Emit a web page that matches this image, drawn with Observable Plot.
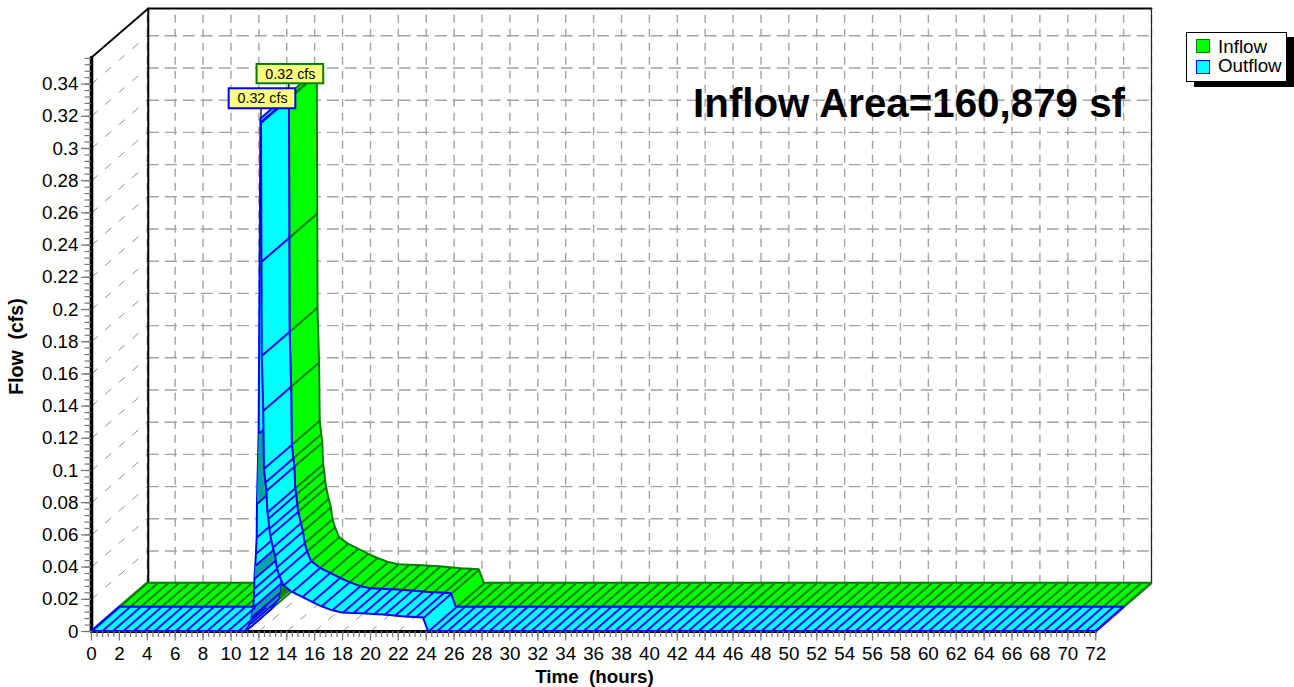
<!DOCTYPE html>
<html>
<head>
<meta charset="utf-8">
<script src="https://cdn.jsdelivr.net/npm/d3@7"></script>
<script src="https://cdn.jsdelivr.net/npm/@observablehq/plot@0.6"></script>
<style>
html,body{margin:0;padding:0;background:#fff;overflow:hidden;width:1294px;height:687px;font-family:"Liberation Sans",Arial,sans-serif}
#chart{position:absolute;left:0;top:0}
#title{position:absolute;left:510px;top:-21px;font:bold 22px/22px "Liberation Sans",Arial,sans-serif;color:#0000ff;white-space:nowrap}
#legend{position:absolute;left:1186px;top:32px;width:99px;height:48px;background:#fff;border:1px solid #000;box-shadow:8px 5px 0 #000;font-size:18.8px;line-height:18px;color:#000}
#legend div{position:absolute;left:31px;white-space:nowrap}
#legend i{position:absolute;left:-22px;width:12px;height:12px;border-width:1.5px;border-style:solid;display:block}
</style>
</head>
<body>
<div id="title">Hydrograph</div>
<div id="chart"></div>
<div id="legend">
<div style="top:5px"><i style="top:1px;background:#00ff00;border-color:#008000"></i>Inflow</div>
<div style="top:24px"><i style="top:3px;background:#00ffff;border-color:#0000ff"></i>Outflow</div>
</div>
<script>
// Hydrograph
const riseT = [11.04,11.45,11.52,11.64,11.68,11.70,11.72,11.78,11.83,11.88,11.90,12.02,12.15];
const riseQ = [0,.005,.0089,.0151,.0213,.0267,.0329,.041,.0484,.0586,.0795,.123,.3183];
const fallT = [12.19,12.22,12.24,12.35,12.40,12.50,12.58,12.64,12.71,12.78,12.85,13.03,13.19,13.31,13.48,13.77,14.39,15.11,15.82,16.49,17.25,18,18.75,19.5,20.25,21,21.75,22.5,23.25,23.8,24.16];
const fallQ = [.3161,.2298,.1714,.1373,.1012,.0927,.0876,.0741,.0702,.064,.0596,.0524,.0472,.0399,.0348,.0286,.0244,.0213,.0182,.0155,.013,.0115,.0112,.011,.0106,.0102,.0096,.009,.0087,.0084,0];
const darkSegments = [[1,3],[6,7],[10,11]]; // rising-limb samples showing the underside
const flatBefore = d3.range(0,11,.75);
const flatAfter = d3.range(24.75,72.01,.75);
const xTicks = d3.range(0,73,2);
const xMinor = d3.range(0,72.01,.4);
const yTicks = d3.range(0,.3401,.02).map(d=>+d.toFixed(2));
const yMinor = d3.range(0,.3561,.004).map(d=>+d.toFixed(3));
const peakLabel = "0.32 cfs";
const areaNote = "Inflow Area=160,879 sf";

// depth of the 3-D box in data units: one full step is both series wide
const depthT = 4, depthQ = 0.03;
const xMax = 76, yMax = 0.38696, frontTop = 0.3565;

const riseRows = [...flatBefore.map(t=>({t,q:0})), ...riseT.map((t,i)=>({t,q:riseQ[i]}))];
const riseSamples = riseT.map((t,i)=>({t,q:riseQ[i]}));
const fallRows = [...fallT.map((t,i)=>({t,q:fallQ[i]})), ...flatAfter.map(t=>({t,q:0}))];

function ribbon(z0,z1,fill,dark,stroke){
  const p = {
    x1:d=>d.t+z0*depthT, y1:d=>d.q+z0*depthQ,
    x2:d=>d.t+z1*depthT, y2:d=>d.q+z1*depthQ
  };
  const line = {stroke, strokeWidth:2};
  return [
    Plot.area(riseRows,{...p,fill,...line,curve:"linear"}),
    ...darkSegments.map(([a,b])=>Plot.area(riseSamples.slice(a,b+1),{...p,fill:dark,curve:"linear"})),
    Plot.link(riseRows.slice(0,-1),{...p,...line}),
    Plot.area(fallRows,{...p,fill,...line,curve:"linear"}),
    Plot.link(fallRows,{...p,...line})
  ];
}

const gridStyle = {stroke:"#a3a3a3",strokeWidth:1.4};
const chart = Plot.plot({
  width:1294,height:687,
  marginLeft:91,marginRight:143,marginTop:8,marginBottom:56,
  style:{fontFamily:'"Liberation Sans",Arial,sans-serif',background:"#fff",overflow:"hidden"},
  x:{domain:[0,xMax],axis:null},
  y:{domain:[0,yMax],axis:null},
  marks:[
    // back wall grid
    Plot.ruleX(d3.range(4,77,2),{...gridStyle,y1:depthQ,y2:yMax,strokeDasharray:"8,6"}),
    Plot.ruleY(yTicks,{...gridStyle,y:d=>d+depthQ,x1:depthT,x2:xMax,strokeDasharray:"12,6"}),
    // left wall and floor diagonals
    Plot.link(yTicks,{...gridStyle,x1:0,y1:d=>d,x2:depthT,y2:d=>d+depthQ,strokeDasharray:"8,10",strokeWidth:1,stroke:"#909090"}),
    Plot.link(xTicks,{...gridStyle,x1:d=>d,y1:0,x2:d=>d+depthT,y2:depthQ,strokeDasharray:"8,10",strokeWidth:1,stroke:"#909090"}),
    // box edges
    Plot.line([[0,0],[0,frontTop]],{stroke:"#000",strokeWidth:3.6}),
    Plot.line([[0,frontTop],[4.07,yMax],[xMax,yMax]],{stroke:"#000",strokeWidth:1.8}),
    Plot.line([[4.07,yMax],[4.07,depthQ]],{stroke:"#000",strokeWidth:2}),
    Plot.line([[xMax,yMax],[xMax,depthQ]],{stroke:"#222",strokeWidth:1.2}),
    Plot.line([[0,0],[72,0]],{stroke:"#000",strokeWidth:3}),
    // peak leaders
    Plot.line([[12.15,.3183],[12.15,.33]],{stroke:"#000",strokeWidth:1.3}),
    Plot.line([[14.15,.335],[14.15,.345]],{stroke:"#000",strokeWidth:1.3}),
    // ribbons, back one first
    ...ribbon(.5,1,"#00ff00","#00a400","#0a7d0a"),
    ...ribbon(0,.5,"#00ffff","#00a4a4","#0000ff"),
    // axes
    Plot.axisX({ticks:xMinor,tickSize:6,tickFormat:()=>"",stroke:"#777",strokeWidth:1.2}),
    Plot.axisX({ticks:xTicks,tickSize:9.5,tickPadding:6,fontSize:18.8,tickFormat:d=>String(d),stroke:"#777",strokeWidth:1.2,fill:"#000",label:null}),
    Plot.axisY({ticks:yMinor,tickSize:6.5,tickFormat:()=>"",stroke:"#777",strokeWidth:1.2}),
    Plot.axisY({ticks:yTicks,tickSize:10,tickPadding:3,fontSize:18.8,tickFormat:d=>String(d),stroke:"#777",strokeWidth:1.2,fill:"#000",label:null}),
    Plot.text(["Time  (hours)"],{x:36.06,y:-.028,fontSize:18.8,fontWeight:"bold",fill:"#000",style:{whiteSpace:"pre"}}),
    Plot.text(["Flow  (cfs)"],{x:-5.38,y:.177,fontSize:19.5,fontWeight:"bold",rotate:-90,fill:"#000"}),
    // note
    Plot.text([areaNote],{x:74.1,y:.3273,textAnchor:"end",fontSize:40.3,fontWeight:"bold",fill:"#000"}),
    // peak labels
    Plot.rect([0],{x1:11.87,x2:16.65,y1:.3402,y2:.3522,fill:"#ffff80",stroke:"#008000",strokeWidth:2}),
    Plot.text([peakLabel],{x:14.26,y:.3462,fontSize:14.3,fill:"#000"}),
    Plot.rect([0],{x1:9.87,x2:14.65,y1:.3247,y2:.3371,fill:"#ffff80",stroke:"#0000ff",strokeWidth:2}),
    Plot.text([peakLabel],{x:12.26,y:.3309,fontSize:14.3,fill:"#000"})
  ]
});
document.getElementById("chart").appendChild(chart);
</script>
</body>
</html>
